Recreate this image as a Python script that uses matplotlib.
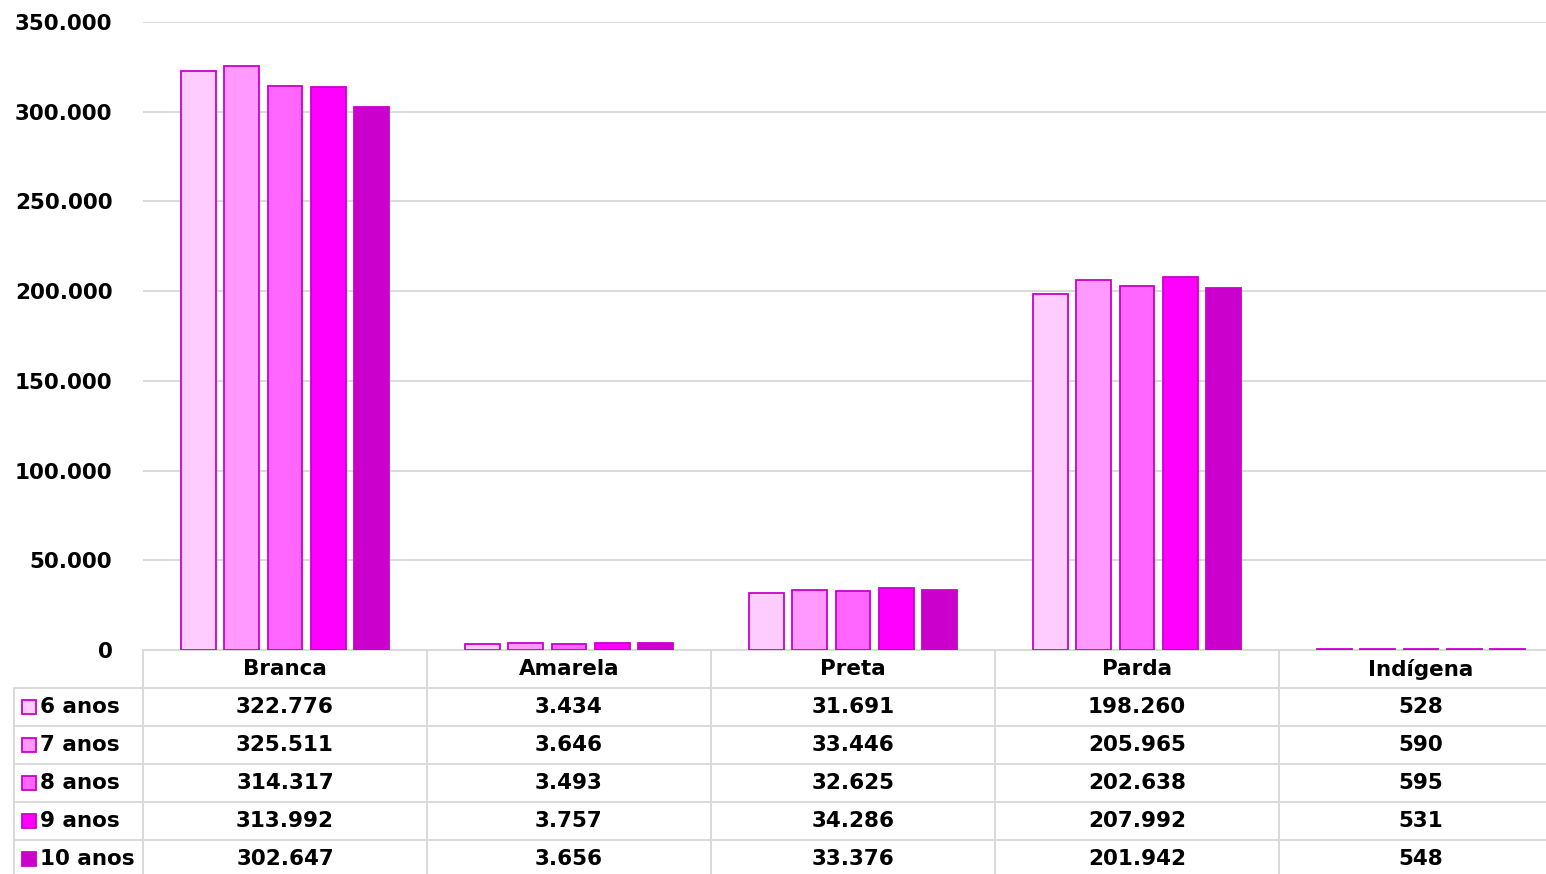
import matplotlib
matplotlib.use("Agg")
import matplotlib.pyplot as plt
from matplotlib.transforms import blended_transform_factory

categories = ["Branca", "Amarela", "Preta", "Parda", "Indígena"]
series_names = ["6 anos", "7 anos", "8 anos", "9 anos", "10 anos"]
values = {
    "6 anos": [322776, 3434, 31691, 198260, 528],
    "7 anos": [325511, 3646, 33446, 205965, 590],
    "8 anos": [314317, 3493, 32625, 202638, 595],
    "9 anos": [313992, 3757, 34286, 207992, 531],
    "10 anos": [302647, 3656, 33376, 201942, 548],
}
colors = ["#FFCCFF", "#FF99FF", "#FF66FF", "#FF00FF", "#CC00CC"]
edge = "#CC00CC"
grid_c = "#D9D9D9"
y_ticks = [0, 50000, 100000, 150000, 200000, 250000, 300000, 350000]


def fmt(v):
    return f"{v:,.0f}".replace(",", ".")


plt.rcParams["font.family"] = ["DejaVu Sans"]
FS = 15.5

W, H = 1546, 874
fig = plt.figure(figsize=(W / 100, H / 100), dpi=100)
ax = fig.add_axes([143 / W, (H - 650) / H, 1420 / W, 628 / H])

n = len(series_names)
pitch = 0.153
bw = 0.123
xs = list(range(len(categories)))
for i, name in enumerate(series_names):
    off = (i - (n - 1) / 2) * pitch
    ax.bar([x + off for x in xs], values[name], bw, color=colors[i],
           edgecolor=edge, linewidth=1.3, zorder=3)

ax.set_xlim(-0.5, len(categories) - 0.5)
ax.set_ylim(0, 350000)
ax.set_yticks(y_ticks)
ax.set_yticklabels([fmt(t) for t in y_ticks], fontsize=FS, fontweight="bold")
ax.tick_params(axis="y", length=0, pad=22)
ax.set_xticks([])
ax.grid(axis="y", color=grid_c, linewidth=1.4, zorder=0)
for s in ax.spines.values():
    s.set_visible(False)

# data table under the plot
tr = blended_transform_factory(ax.transData, ax.transAxes)
rh = 38 / 628
nudge = 2 / 628
left = -0.5 - 129 / 284
right = len(categories) - 0.5
lk = dict(color=grid_c, linewidth=1.4, transform=tr, clip_on=False)

ax.plot([-0.5, right], [0, 0], **lk)
for r in range(1, n + 2):
    ax.plot([left, right], [-r * rh, -r * rh], **lk)
bottom = -(n + 1) * rh - 0.01
for k in range(len(categories) + 1):
    ax.plot([k - 0.5, k - 0.5], [0, bottom], **lk)
ax.plot([left, left], [-rh, bottom], **lk)

for j, cat in enumerate(categories):
    ax.text(j, -0.5 * rh + nudge, cat, transform=tr, ha="center",
            va="center_baseline", fontsize=FS, fontweight="bold")
for i, name in enumerate(series_names):
    yc = -(i + 1.5) * rh
    ax.plot([-0.5 - 114 / 284], [yc], marker="s", markersize=9.5,
            markerfacecolor=colors[i], markeredgecolor=edge,
            markeredgewidth=1.3, transform=tr, clip_on=False)
    ax.text(-0.5 - 103 / 284, yc + nudge, name, transform=tr, ha="left",
            va="center_baseline", fontsize=FS, fontweight="bold")
    for j, v in enumerate(values[name]):
        ax.text(j, yc + nudge, fmt(v), transform=tr, ha="center",
                va="center_baseline", fontsize=FS, fontweight="bold")

fig.savefig("out.png", dpi=100)
